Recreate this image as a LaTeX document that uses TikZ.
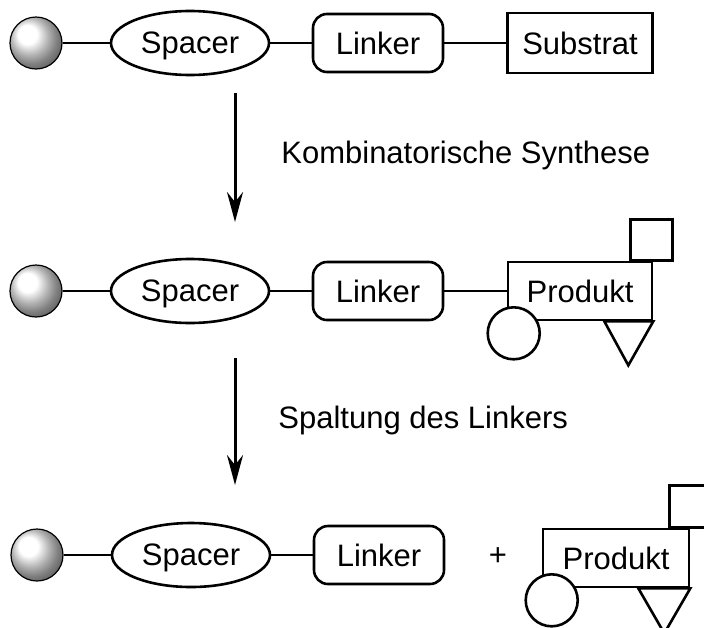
\documentclass[tikz,border=0pt]{standalone}
\usepackage{fontspec}
\setmainfont{Liberation Sans}
\usetikzlibrary{shapes.geometric,arrows.meta,calc}

\begin{document}
\begin{tikzpicture}[x=0.5pt,y=-0.5pt,
  every node/.style={font=\fontsize{15.5}{18}\selectfont},
  bead/.style={circle,draw=black,line width=0.6pt,minimum size=26pt,inner sep=0pt,shading=ball,ball color=white},
  spacer/.style={ellipse,draw,line width=1.3pt,minimum width=79pt,minimum height=32pt,inner sep=0pt,text depth=0pt},
  linker/.style={rectangle,rounded corners=7pt,draw,line width=1.3pt,minimum width=65pt,minimum height=29pt,inner sep=0pt,text depth=0pt},
  target/.style={rectangle,draw,line width=1.3pt,fill=white,minimum width=72.5pt,minimum height=29pt,inner sep=0pt,text depth=0pt},
  tether/.style={line width=1.3pt},
  react/.style={line width=1.5pt,-{Stealth[length=15pt,width=8pt,inset=5pt]}},
  sidegroup/.style={draw,line width=1.3pt,fill=white}]
\useasboundingbox (0,0) rectangle (704,627);
\clip (0,0) rectangle (704,627);
% Row 1: starting material on the bead
\node[bead] (b1) at (36,43) {};
\node[spacer] (s1) at (190,43) {Spacer};
\node[linker] (l1) at (378,43) {Linker};
\node[target,minimum height=30pt] (t1) at (580,43) {Substrat};
\draw[tether] (b1) -- (s1);
\draw[tether] (s1) -- (l1);
\draw[tether] (l1) -- (t1);
% Arrow 1 and its label
\coordinate (a1top) at (235,93);
\coordinate (a1end) at (235,222);
\draw[react] (a1top) -- (a1end);
\node[anchor=west,inner sep=0pt] (syn) at (281,155) {Kombinatorische Synthese};
% Row 2: product still on the bead
\node[bead] (b2) at (36,291) {};
\node[spacer] (s2) at (190,291) {Spacer};
\node[linker] (l2) at (378,291) {Linker};
\node[target,minimum width=72pt] (p2) at (580,291) {Produkt};
\draw[tether] (b2) -- (s2);
\draw[tether] (s2) -- (l2);
\draw[tether] (l2) -- (p2);
\draw[sidegroup] ($(p2.north east)+(-23,0)$) rectangle ++(42,-41);
\draw[sidegroup] ($(p2.south west)+(7,12)$) circle[radius=13pt];
\draw[sidegroup] ($(p2.south east)+(-49,0)$) -- ++(24,44) -- (p2.south east) -- cycle;
% Arrow 2 and its label
\coordinate (a2top) at (235,358);
\coordinate (a2end) at (235,485);
\draw[react] (a2top) -- (a2end);
\node[anchor=west,inner sep=0pt] (clv) at (278,420) {Spaltung des Linkers};
% Row 3: cleaved product
\node[bead] (b3) at (37,555) {};
\node[spacer] (s3) at (191,555) {Spacer};
\node[linker] (l3) at (379,555) {Linker};
\draw[tether] (b3) -- (s3);
\draw[tether] (s3) -- (l3);
\node (plus) at (498,557) {+};
\node[target,minimum width=73pt] (p3) at (616,558) {Produkt};
\draw[sidegroup] ($(p3.north east)+(-21,0)$) rectangle ++(42,-42);
\draw[sidegroup] ($(p3.south west)+(10,12)$) circle[radius=13pt];
\draw[sidegroup] ($(p3.south east)+(-52,0)$) -- ++(26,45) -- (p3.south east) -- cycle;
\end{tikzpicture}
\end{document}
